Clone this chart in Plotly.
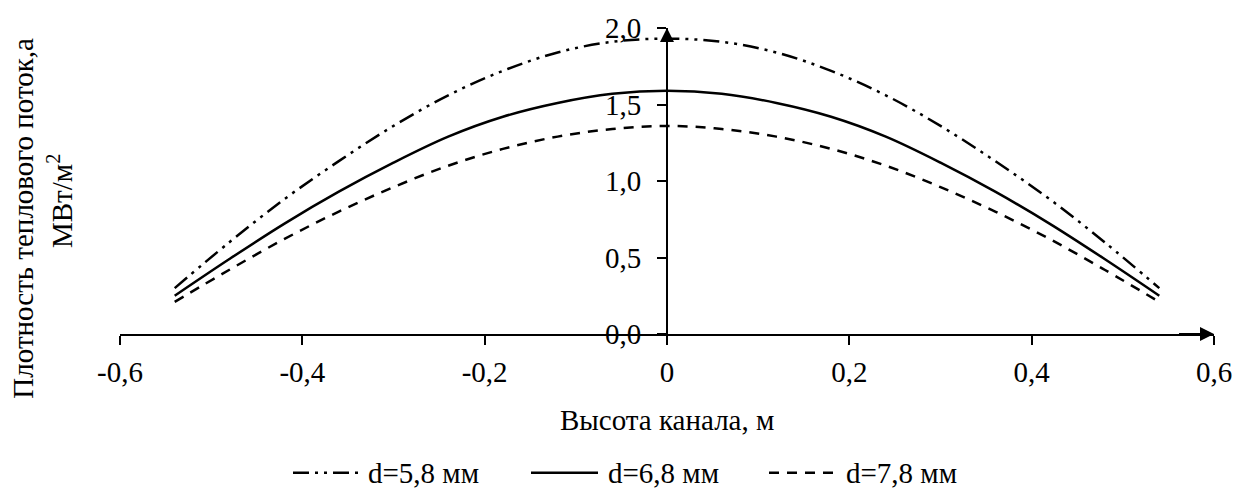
import plotly.graph_objects as go

# Channel height coordinate, m
height_m = [-0.54, -0.48, -0.42, -0.36, -0.30, -0.24, -0.18, -0.12, -0.06, 0.0,
            0.06, 0.12, 0.18, 0.24, 0.30, 0.36, 0.42, 0.48, 0.54]

# Heat flux density, MW/m^2, for three channel widths
q_d58 = [0.30, 0.60, 0.88, 1.13, 1.36, 1.56, 1.72, 1.84, 1.91, 1.93,
         1.91, 1.84, 1.72, 1.56, 1.36, 1.13, 0.88, 0.60, 0.30]
q_d68 = [0.25, 0.49, 0.72, 0.93, 1.12, 1.29, 1.42, 1.51, 1.57, 1.59,
         1.57, 1.51, 1.42, 1.29, 1.12, 0.93, 0.72, 0.49, 0.25]
q_d78 = [0.21, 0.42, 0.62, 0.80, 0.96, 1.10, 1.21, 1.29, 1.34, 1.36,
         1.34, 1.29, 1.21, 1.10, 0.96, 0.80, 0.62, 0.42, 0.21]

series_names = ["d=5,8 мм", "d=6,8 мм", "d=7,8 мм"]

x_tick_vals = [-0.6, -0.4, -0.2, 0.0, 0.2, 0.4, 0.6]
x_tick_text = ["-0,6", "-0,4", "-0,2", "0", "0,2", "0,4", "0,6"]
y_tick_vals = [0.0, 0.5, 1.0, 1.5, 2.0]
y_tick_text = ["0,0", "0,5", "1,0", "1,5", "2,0"]

FONT = "Liberation Serif, Times New Roman, serif"
FS = 29
TXT = dict(family=FONT, size=FS, color="black")

W, H = 1248, 489
ML, MR, MT, MB = 120, 34, 21, 155
PW, PH = W - ML - MR, H - MT - MB


def px_x(px):
    return (px - ML) / PW


def px_y(py):
    return (H - MB - py) / PH


dash_styles = ["16px,6px,3px,6px,3px,6px", "solid", "10px,8px"]

fig = go.Figure()
for name, ys, dash in zip(series_names, [q_d58, q_d68, q_d78], dash_styles):
    fig.add_trace(go.Scatter(
        x=height_m, y=ys, name=name, mode="lines", showlegend=False,
        line=dict(color="black", width=2.5, shape="spline", dash=dash),
    ))

fig.update_layout(
    width=W, height=H,
    margin=dict(l=ML, r=MR, t=MT, b=MB),
    paper_bgcolor="white", plot_bgcolor="white",
    font=TXT,
    showlegend=False,
    xaxis=dict(
        range=[-0.6, 0.6], tickvals=x_tick_vals, ticktext=x_tick_text,
        showgrid=False, zeroline=False, showline=True,
        linecolor="black", linewidth=2,
        ticks="outside", ticklen=9, tickwidth=1.5, tickcolor="black",
        tickfont=TXT, ticklabelstandoff=2,
    ),
    yaxis=dict(
        range=[0, 2.0], tickvals=y_tick_vals, ticktext=y_tick_text,
        anchor="free", position=0.5, side="left",
        showgrid=False, zeroline=False, showline=True,
        linecolor="black", linewidth=2,
        ticks="outside", ticklen=9, tickwidth=1.5, tickcolor="black",
        tickfont=TXT, ticklabelstandoff=10,
    ),
)

# Arrowheads at the ends of both axes
fig.add_annotation(x=0.6, y=0, ax=0.56, ay=0, xref="x", yref="y",
                   axref="x", ayref="y", text="", showarrow=True,
                   arrowhead=2, arrowsize=1.4, arrowwidth=2, arrowcolor="black")
fig.add_annotation(x=0, y=2.0, ax=0, ay=1.85, xref="x", yref="y",
                   axref="x", ayref="y", text="", showarrow=True,
                   arrowhead=2, arrowsize=1.4, arrowwidth=2, arrowcolor="black")

# Horizontal axis title
fig.add_annotation(text="Высота канала, м", xref="paper", yref="paper",
                   x=px_x(667), y=px_y(422), xanchor="center", yanchor="middle",
                   showarrow=False, font=TXT)

# Vertical axis title, two lines
fig.add_annotation(text="Плотность теплового поток,а", xref="paper", yref="paper",
                   x=px_x(23), y=px_y(216), xanchor="center", yanchor="middle",
                   textangle=-90, showarrow=False, font=TXT)
fig.add_annotation(text="МВт/м<sup>2</sup>", xref="paper", yref="paper",
                   x=px_x(60), y=px_y(198), xanchor="center", yanchor="middle",
                   textangle=-90, showarrow=False, font=TXT)

# Legend below the chart: line sample followed by its label
legend_y = 476
legend_items = [(293, 360, 366), (531, 598, 606), (769, 836, 844)]
for name, dash, (x0, x1, xt) in zip(series_names, dash_styles, legend_items):
    fig.add_shape(type="line", xref="paper", yref="paper",
                  x0=px_x(x0), x1=px_x(x1), y0=px_y(legend_y), y1=px_y(legend_y),
                  line=dict(color="black", width=2.5, dash=dash))
    fig.add_annotation(text=name, xref="paper", yref="paper",
                       x=px_x(xt), y=px_y(legend_y), xanchor="left",
                       yanchor="middle", showarrow=False, font=TXT)

fig.write_html("out.html")
